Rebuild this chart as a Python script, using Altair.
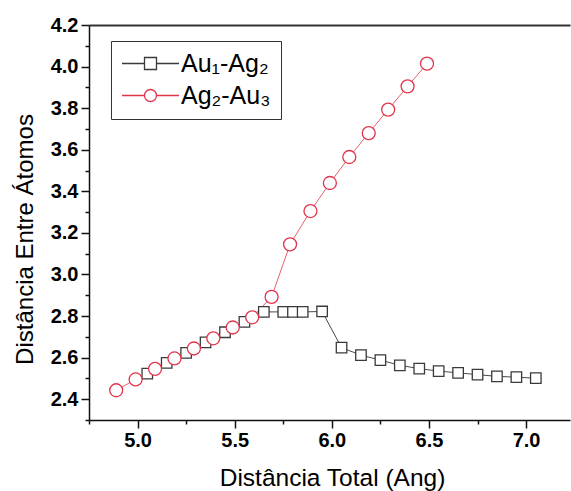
import altair as alt
import pandas as pd

# ---- data ----
s1 = "Au₁-Ag₂"
s2 = "Ag₂-Au₃"
x_au = [5.05, 5.15, 5.25, 5.35, 5.45, 5.55, 5.65, 5.75, 5.80, 5.85, 5.95,
        6.05, 6.15, 6.25, 6.35, 6.45, 6.55, 6.65, 6.75, 6.85, 6.95, 7.05]
y_au = [2.523, 2.575, 2.623, 2.673, 2.722, 2.772, 2.82, 2.82, 2.82, 2.82, 2.822,
        2.648, 2.612, 2.588, 2.563, 2.547, 2.535, 2.527, 2.518, 2.510, 2.506, 2.501]
x_ag = [4.89, 4.99, 5.09, 5.19, 5.29, 5.39, 5.49, 5.59, 5.69, 5.785, 5.89,
        5.99, 6.09, 6.19, 6.29, 6.39, 6.49]
y_ag = [2.443, 2.495, 2.546, 2.596, 2.644, 2.693, 2.745, 2.794, 2.892, 3.145, 3.305,
        3.44, 3.565, 3.68, 3.793, 3.905, 4.014]

x_major = [5.0, 5.5, 6.0, 6.5, 7.0]
x_minor = [4.75, 5.25, 5.75, 6.25, 6.75]
y_major = [2.4, 2.6, 2.8, 3.0, 3.2, 3.4, 3.6, 3.8, 4.0, 4.2]
y_minor = [2.3, 2.5, 2.7, 2.9, 3.1, 3.3, 3.5, 3.7, 3.9, 4.1]

df = pd.DataFrame({
    "x": x_au + x_ag,
    "y": y_au + y_ag,
    "series": [s1] * len(x_au) + [s2] * len(x_ag),
})

FONT = "Liberation Sans"
xs = alt.Scale(domain=[4.75, 7.226], nice=False, zero=False)
ys = alt.Scale(domain=[2.3, 4.2], nice=False, zero=False)

path_sq = "M-4.75,0H-1M1,0H4.75M-1,-1H1V1H-1Z"
path_ci = "M-4.75,0H-1M1,0H4.75M1,0A1,1,0,1,1,-1,0A1,1,0,1,1,1,0Z"

axis_common = dict(domainColor="#111", domainWidth=1.5, tickColor="#111", tickWidth=1.5,
                   grid=False, labelFont=FONT, labelFontSize=20, labelFontWeight="bold",
                   labelColor="#000", titleFont=FONT, titleFontWeight="normal",
                   titleColor="#000")

x_axis_major = alt.Axis(values=x_major, format=".1f", tickSize=8, labelPadding=2,
                        title="Distância Total (Ang)", titleX=243, titleY=65,
                        titleFontSize=24.5,
                        titleBaseline="alphabetic", titleAlign="center", orient="bottom",
                        **axis_common)
y_axis_major = alt.Axis(values=y_major, format=".1f", tickSize=8, labelPadding=3,
                        title="Distância Entre Átomos", titleX=-57, titleY=214,
                        titleFontSize=24,
                        titleBaseline="alphabetic", titleAlign="center", orient="left",
                        **axis_common)
x_axis_minor = alt.Axis(values=x_minor, tickSize=4, labels=False, title=None,
                        domain=False, grid=False, tickColor="#111", tickWidth=1.5,
                        orient="bottom")
y_axis_minor = alt.Axis(values=y_minor, tickSize=4, labels=False, title=None,
                        domain=False, grid=False, tickColor="#111", tickWidth=1.5,
                        orient="left")
x_axis_top = alt.Axis(orient="top", ticks=False, labels=False, title=None, grid=False,
                      domainColor="#333", domainWidth=2)

line_au = alt.Chart(df).transform_filter(alt.datum.series == s1).mark_line(
    strokeWidth=1, color="#4a4a4a"
).encode(
    x=alt.X("x:Q", scale=xs, axis=x_axis_major),
    y=alt.Y("y:Q", scale=ys, axis=y_axis_major),
)
line_ag = alt.Chart(df).transform_filter(alt.datum.series == s2).mark_line(
    strokeWidth=1, color="#e8606e"
).encode(
    x=alt.X("x:Q", scale=xs, axis=None),
    y=alt.Y("y:Q", scale=ys, axis=None),
)

squares = alt.Chart(df).transform_filter(alt.datum.series == s1).mark_point(
    shape="square", filled=True, fill="white", stroke="#3a3a3a", strokeWidth=1.3,
    size=110, opacity=1,
).encode(
    x=alt.X("x:Q", scale=xs, axis=x_axis_minor),
    y=alt.Y("y:Q", scale=ys, axis=y_axis_minor),
)

circles = alt.Chart(df).transform_filter(alt.datum.series == s2).mark_point(
    shape="circle", filled=True, fill="white", stroke="#e0364d", strokeWidth=1.3,
    size=169, opacity=1,
).encode(
    x=alt.X("x:Q", scale=xs, axis=x_axis_top),
    y=alt.Y("y:Q", scale=ys, axis=None),
)

legend_props = dict(
    title=None, orient="none", legendX=22, legendY=16,
    padding=10, strokeColor="#333", fillColor="white",
    labelFont=FONT, labelFontSize=25, labelColor="#000",
    symbolSize=144, symbolStrokeWidth=1.3,
    symbolOffset=17, labelOffset=18, rowPadding=6,
)

legend_layer = alt.Chart(df).transform_filter("false").mark_point(
    filled=False, strokeWidth=1.3, opacity=1
).encode(
    x=alt.X("x:Q", scale=xs, axis=None),
    y=alt.Y("y:Q", scale=ys, axis=None),
    color=alt.Color("series:N",
                    scale=alt.Scale(domain=[s1, s2], range=["#3a3a3a", "#e0364d"]),
                    legend=alt.Legend(**legend_props)),
    shape=alt.Shape("series:N",
                    scale=alt.Scale(domain=[s1, s2], range=[path_sq, path_ci]),
                    legend=alt.Legend(**legend_props)),
)

chart = alt.layer(line_au, line_ag, squares, circles, legend_layer).resolve_axis(
    x="independent", y="independent"
).properties(
    width=481, height=395,
    autosize=alt.AutoSizeParams(type="none"),
    padding={"left": 89, "top": 25, "right": 1, "bottom": 71},
    background="white",
).configure_view(stroke="transparent", strokeWidth=0)

chart.save("out.html", embed_options={"renderer": "svg", "actions": False})
